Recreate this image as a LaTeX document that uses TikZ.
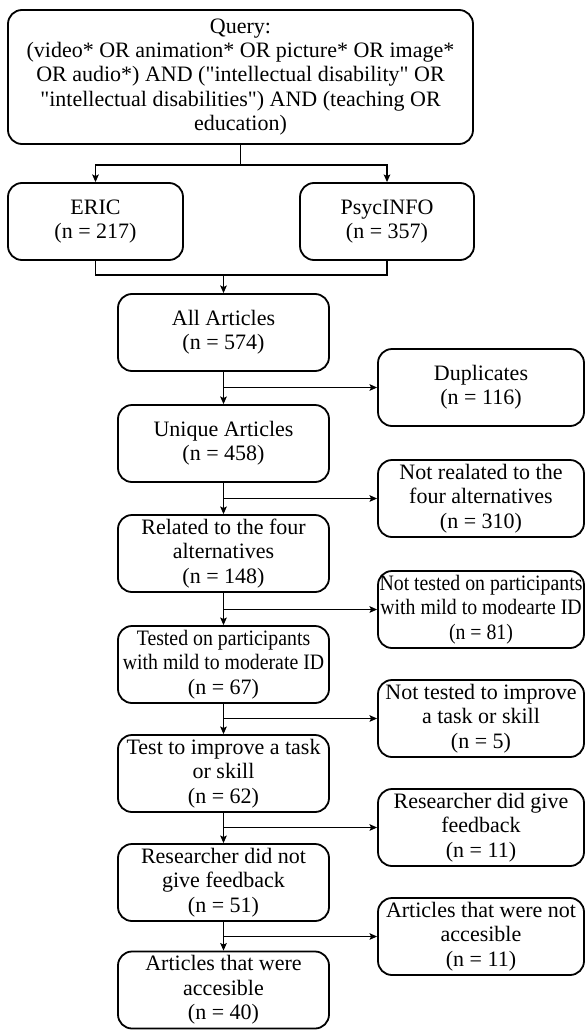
\documentclass[tikz,border=0pt]{standalone}
\usepackage{fontspec}
\setmainfont{Liberation Serif}
\newfontfamily\narrowfont{Liberation Serif}[FakeStretch=0.9]
\usetikzlibrary{arrows.meta}
\newcommand{\qq}{\textquotedbl}
\begin{document}
\begin{tikzpicture}[x=1pt,y=-1pt,
  box/.style={draw, line width=1.8pt, rounded corners=14pt, align=center,
    inner sep=0pt, font=\fontsize{22pt}{24.4pt}\selectfont,
    execute at begin node={\rule{0pt}{21pt}}},
  lbox/.style={box, minimum width=211pt, minimum height=77pt},
  rbox/.style={box, minimum width=206pt, minimum height=77pt},
  conn/.style={line width=1.7pt},
  arr/.style={conn, -{Stealth[length=7.5pt,width=6.5pt,inset=1.5pt]}}]
\useasboundingbox (0,0) rectangle (586,1030);

\node[box, minimum width=465pt, minimum height=134pt] (q) at (240.5,77)
 {Query:\\(video* OR animation* OR picture* OR image*\\OR audio*) AND (\qq intellectual disability\qq{} OR\\\qq intellectual disabilities\qq) AND (teaching OR\\education)};
\node[box, minimum width=175pt, minimum height=77pt] (eric) at (95.5,221.5) {ERIC\\(n = 217)};
\node[box, minimum width=174pt, minimum height=77pt] (psyc) at (387,221.5) {PsycINFO\\(n = 357)};

\node[lbox] (l1) at (223.5,332.5) {All Articles\\(n = 574)};
\node[lbox] (l2) at (223.5,443.5) {Unique Articles\\(n = 458)};
\node[lbox] (l3) at (223.5,553.5) {Related to the four\\alternatives\\(n = 148)};
\node[lbox] (l4) at (223.5,664.5) {{\narrowfont Tested on participants}\\{\narrowfont with mild to moderate ID}\\(n = 67)};
\node[lbox] (l5) at (223.5,773.5) {Test to improve a task\\or skill\\(n = 62)};
\node[lbox] (l6) at (223.5,882.5) {Researcher did not\\give feedback\\(n = 51)};
\node[lbox] (l7) at (223.5,990) {Articles that were\\accesible\\(n = 40)};

\node[rbox] (r1) at (481,387.5) {Duplicates\\(n = 116)};
\node[rbox] (r2) at (481,498.5) {Not realated to the\\four alternatives\\(n = 310)};
\node[rbox] (r3) at (481,609.5) {{\narrowfont Not tested on participants}\\{\narrowfont with mild to modearte ID}\\{\narrowfont (n = 81)}};
\node[rbox] (r4) at (481,718.5) {Not tested to improve\\a task or skill\\(n = 5)};
\node[rbox] (r5) at (481,827.5) {Researcher did give\\feedback\\(n = 11)};
\node[rbox] (r6) at (481,936.5) {Articles that were not\\accesible\\(n = 11)};

% query split
\coordinate (qs) at (240.5,165);
\draw[conn] (q.south) -- (qs);
\draw[arr] (qs) -| (eric.north);
\draw[arr] (qs) -| (psyc.north);
% merge
\coordinate (mg) at (223.5,275);
\draw[conn] (eric.south) |- (mg);
\draw[conn] (psyc.south) |- (mg);
\draw[arr] (mg) -- (l1.north);

% chain
\foreach \a/\b/\r in {l1/l2/r1, l2/l3/r2, l3/l4/r3, l4/l5/r4, l5/l6/r5, l6/l7/r6}{
  \draw[arr] (\a.south) -- (\b.north);
  \draw[arr] (\a.south |- \r.west) -- (\r.west);
}
\end{tikzpicture}
\end{document}
